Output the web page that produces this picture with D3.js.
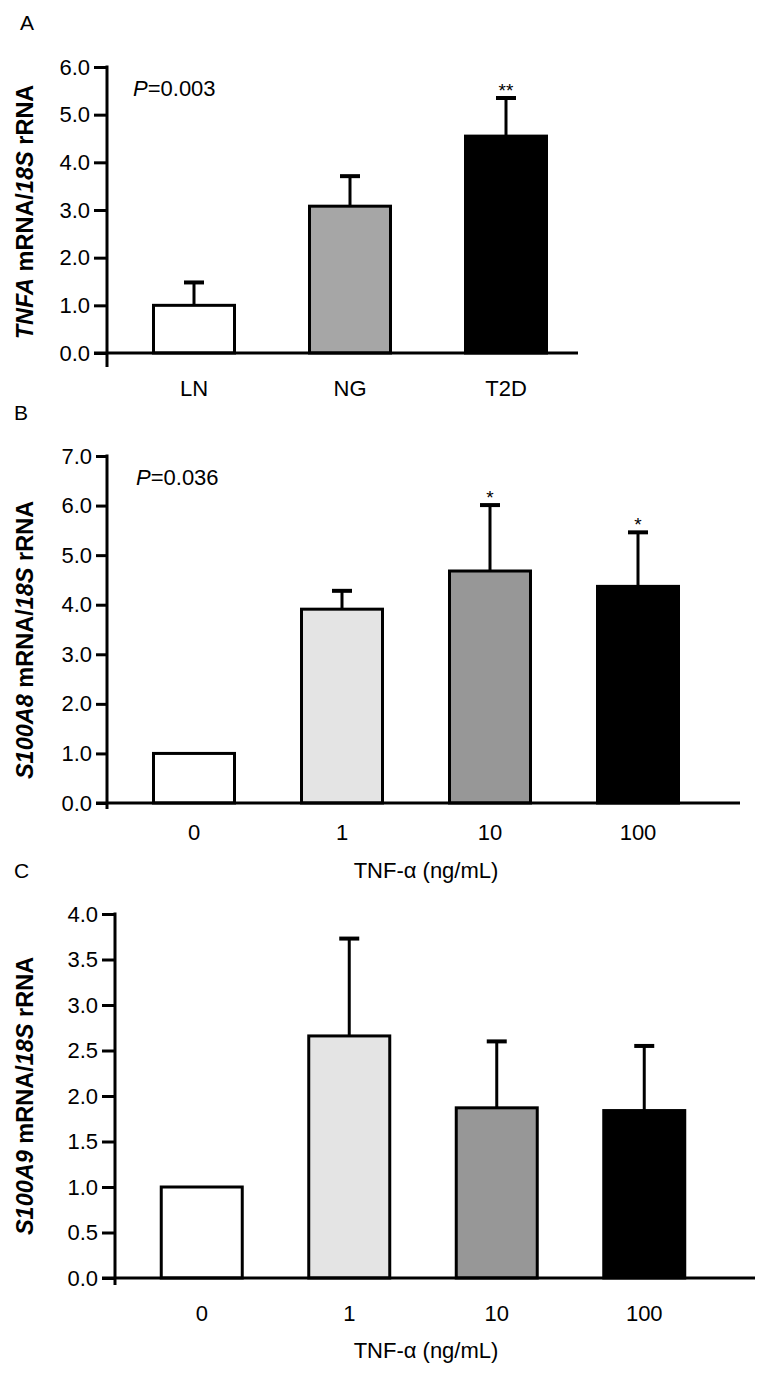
<!DOCTYPE html>
<html><head><meta charset="utf-8">
<script src="https://cdn.jsdelivr.net/npm/d3@7"></script>
<style>
body{margin:0;background:#fff}
svg{display:block}
text{font-family:"Liberation Sans",Arial,Helvetica,sans-serif;fill:#000}
</style>
</head><body>
<svg id="chart" width="767" height="1379"></svg>
<script>
// ---------- data ----------
const aCategories = ["LN", "NG", "T2D"];
const aValues = [1.0, 3.08, 4.55];
const aErrors = [0.48, 0.63, 0.80];
const aSig = ["", "", "**"];
const aTicks = [0, 1, 2, 3, 4, 5, 6];
const aPValue = "0.003";
const aLabel = [["TNFA", true], [" mRNA/", false], ["18S", true], [" rRNA", false]];

const bCategories = ["0", "1", "10", "100"];
const bValues = [1.0, 3.91, 4.68, 4.37];
const bErrors = [0, 0.37, 1.33, 1.09];
const bSig = ["", "", "*", "*"];
const bTicks = [0, 1, 2, 3, 4, 5, 6, 7];
const bPValue = "0.036";
const bLabel = [["S100A8", true], [" mRNA/", false], ["18S", true], [" rRNA", false]];

const cCategories = ["0", "1", "10", "100"];
const cValues = [1.0, 2.66, 1.87, 1.84];
const cErrors = [0, 1.07, 0.73, 0.71];
const cSig = ["", "", "", ""];
const cTicks = [0, 0.5, 1, 1.5, 2, 2.5, 3, 3.5, 4];
const cLabel = [["S100A9", true], [" mRNA/", false], ["18S", true], [" rRNA", false]];

const xTitle = "TNF-\u03B1 (ng/mL)";

// ---------- styles ----------
const fillsA = ["#ffffff", "#a6a6a6", "#000000"];
const fillsBC = ["#ffffff", "#e4e4e4", "#979797", "#000000"];

const svg = d3.select("#chart");
const FS = 22;

function drawPanel(o) {
  const g = svg.append("g");
  const y = d3.scaleLinear().domain([0, o.max]).range([o.y0, o.yTop]);
  const x = d3.scalePoint().domain(o.cats).range(o.xRange).padding(0.5);

  // panel letter
  g.append("text").attr("x", o.letter[1]).attr("y", o.letter[2])
    .style("font-size", "21px").text(o.letter[0]);

  // y axis via d3
  const ax = g.append("g").attr("transform", `translate(${o.axisX},0)`)
    .call(d3.axisLeft(y).tickValues(o.ticks).tickFormat(d3.format(".1f"))
      .tickSize(o.tickLen).tickSizeOuter(0).tickPadding(4));
  ax.select(".domain").remove();
  ax.selectAll(".tick line").attr("stroke", "#000").attr("stroke-width", 3);
  ax.selectAll(".tick text").style("font-size", FS + "px")
    .style("font-family", '"Liberation Sans",Arial,sans-serif').attr("fill", "#000");
  // vertical axis line (extends a bit below zero)
  g.append("line").attr("x1", o.axisX).attr("x2", o.axisX)
    .attr("y1", y(o.max) - 1.5).attr("y2", o.y0 + o.ext)
    .attr("stroke", "#000").attr("stroke-width", 3);

  // bars
  const data = o.cats.map((c, i) => ({ c, v: o.values[i], e: o.errors[i], s: o.sig[i], f: o.fills[i] }));
  g.selectAll("rect.bar").data(data).join("rect").attr("class", "bar")
    .attr("x", d => x(d.c) - o.bw / 2).attr("width", o.bw)
    .attr("y", d => y(d.v)).attr("height", d => y(0) - y(d.v))
    .attr("fill", d => d.f).attr("stroke", "#000").attr("stroke-width", 3);

  // error bars
  const eb = data.filter(d => d.e > 0);
  g.selectAll("line.ev").data(eb).join("line").attr("class", "ev")
    .attr("x1", d => x(d.c)).attr("x2", d => x(d.c))
    .attr("y1", d => y(d.v)).attr("y2", d => y(d.v + d.e))
    .attr("stroke", "#000").attr("stroke-width", 3);
  g.selectAll("line.ec").data(eb).join("line").attr("class", "ec")
    .attr("x1", d => x(d.c) - 10).attr("x2", d => x(d.c) + 10)
    .attr("y1", d => y(d.v + d.e)).attr("y2", d => y(d.v + d.e))
    .attr("stroke", "#000").attr("stroke-width", 4);

  // significance
  g.selectAll("text.sig").data(data.filter(d => d.s)).join("text").attr("class", "sig")
    .attr("x", d => x(d.c)).attr("y", d => y(d.v + d.e) - 1)
    .attr("text-anchor", "middle").style("font-size", "19px").text(d => d.s);

  // x baseline
  g.append("line").attr("x1", o.axisX - o.tickLen).attr("x2", o.xEnd)
    .attr("y1", o.y0).attr("y2", o.y0).attr("stroke", "#000").attr("stroke-width", 3);

  // x labels
  g.selectAll("text.xl").data(o.cats).join("text").attr("class", "xl")
    .attr("x", d => x(d)).attr("y", o.xLabelY).attr("text-anchor", "middle")
    .style("font-size", FS + "px").text(d => d);

  if (o.title) {
    g.append("text").attr("x", o.titleX).attr("y", o.titleY).attr("text-anchor", "middle")
      .style("font-size", FS + "px").text(o.title);
  }
  if (o.p) {
    const t = g.append("text").attr("x", o.pX).attr("y", o.pY).style("font-size", FS + "px");
    t.append("tspan").style("font-style", "italic").text("P");
    t.append("tspan").text("=" + o.p);
  }
  // y label
  const lab = g.append("text").attr("transform", `translate(${o.labX},${o.labY}) rotate(-90)`)
    .attr("text-anchor", "middle").style("font-size", "23.5px").style("font-weight", "bold");
  o.label.forEach(([t, it]) => lab.append("tspan").style("font-style", it ? "italic" : "normal").text(t));
}

drawPanel({
  cats: aCategories, values: aValues, errors: aErrors, sig: aSig, fills: fillsA,
  ticks: aTicks, max: 6, y0: 353, yTop: 67, axisX: 107, tickLen: 13, ext: 14,
  xRange: [116, 584], bw: 81, xEnd: 578, xLabelY: 396,
  letter: ["A", 20, 30], p: aPValue, pX: 133, pY: 96,
  label: aLabel, labX: 33, labY: 212
});
drawPanel({
  cats: bCategories, values: bValues, errors: bErrors, sig: bSig, fills: fillsBC,
  ticks: bTicks, max: 7, y0: 803, yTop: 456, axisX: 107, tickLen: 11, ext: 6,
  xRange: [120, 712], bw: 81, xEnd: 740, xLabelY: 840,
  title: xTitle, titleX: 426, titleY: 878,
  letter: ["B", 14, 420], p: bPValue, pX: 136, pY: 485,
  label: bLabel, labX: 33, labY: 640
});
drawPanel({
  cats: cCategories, values: cValues, errors: cErrors, sig: cSig, fills: fillsBC,
  ticks: cTicks, max: 4, y0: 1278, yTop: 914, axisX: 115, tickLen: 13, ext: 7,
  xRange: [128, 718], bw: 81, xEnd: 755, xLabelY: 1321,
  title: xTitle, titleX: 426, titleY: 1358,
  letter: ["C", 14, 878],
  label: cLabel, labX: 33, labY: 1096
});
</script>
</body></html>
